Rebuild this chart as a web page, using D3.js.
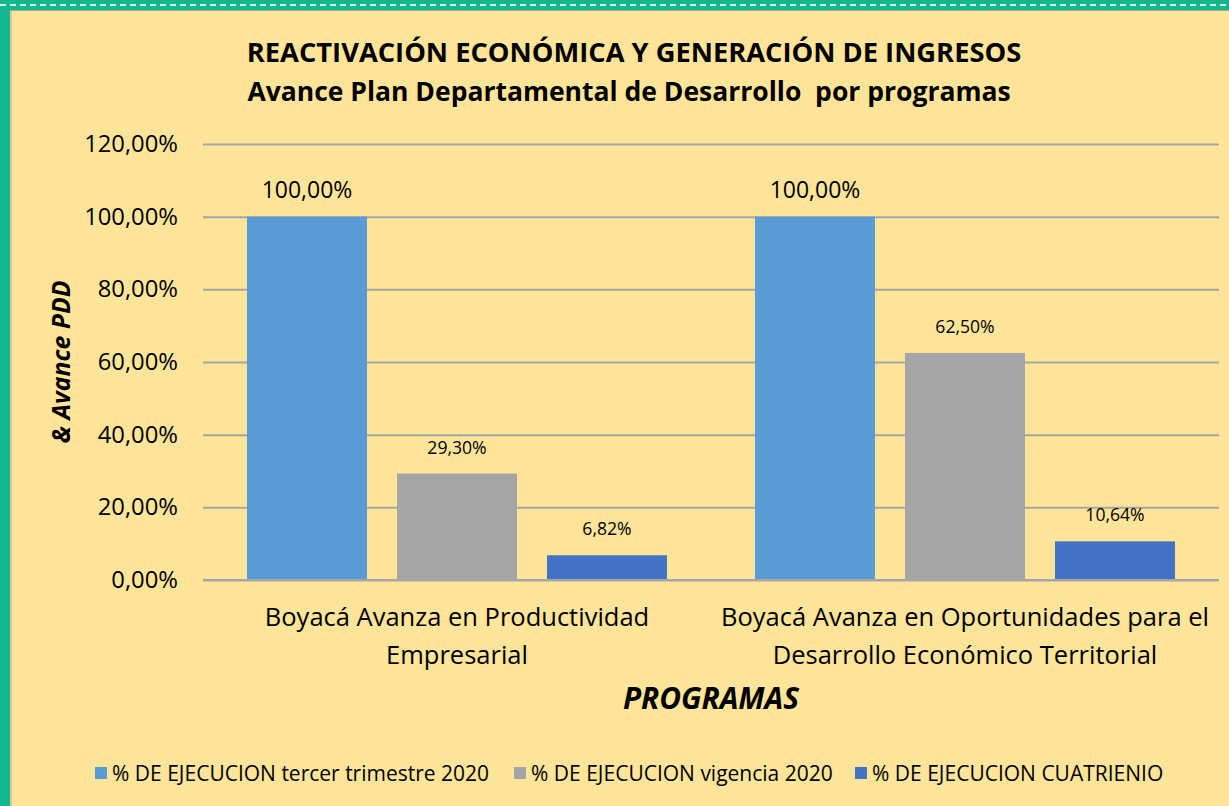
<!DOCTYPE html>
<html><head><meta charset="utf-8">
<script src="https://cdn.jsdelivr.net/npm/d3@7"></script>
<style>body{margin:0;background:#FFE599;} svg{display:block;}</style>
</head><body>
<svg id="c" width="1229" height="806"></svg>
<script>
const categories = [["Boyacá Avanza en Productividad","Empresarial"],["Boyacá Avanza en Oportunidades para el","Desarrollo Económico Territorial"]];
const seriesNames = ["% DE EJECUCION tercer trimestre 2020","% DE EJECUCION vigencia 2020","% DE EJECUCION CUATRIENIO"];
const trimestre = [100.00, 100.00];
const vigencia = [29.30, 62.50];
const cuatrienio = [6.82, 10.64];
const yTicks = [0,20,40,60,80,100,120];
const colors = ["#5B9BD5","#A5A5A5","#4472C4"];

const F = "'Open Sans', sans-serif";
const svg = d3.select("#c");
const W = 1229, H = 806;
svg.append("rect").attr("width",W).attr("height",H).attr("fill","#FFE599");
// teal border
svg.append("rect").attr("x",0).attr("y",0).attr("width",W).attr("height",10).attr("fill","#12B68F");
svg.append("rect").attr("x",0).attr("y",0).attr("width",10).attr("height",H).attr("fill","#12B68F");
svg.append("line").attr("x1",0).attr("x2",W).attr("y1",5).attr("y2",5).attr("stroke","#D8F2E8").attr("stroke-width",2).attr("stroke-dasharray","6,4");
svg.append("line").attr("x1",11).attr("x2",11).attr("y1",10).attr("y2",H).attr("stroke","#B0A890").attr("stroke-width",1);
svg.append("line").attr("x1",10).attr("x2",W).attr("y1",10.5).attr("y2",10.5).attr("stroke","#B0A890").attr("stroke-width",1);

const m = {l:203, r:1219, t:144, b:580};
const x0 = d3.scaleBand().domain(d3.range(categories.length)).range([m.l,m.r]).paddingInner(0).paddingOuter(0);
const x1 = d3.scaleBand().domain(d3.range(3)).range([44, x0.bandwidth()-44]).paddingInner(0.2).paddingOuter(0);
const y = d3.scaleLinear().domain([0,120]).range([m.b,m.t]);

// grid
const yAxis = d3.axisLeft(y).tickValues(yTicks).tickSize(-(m.r-m.l)).tickFormat(d => d3.format(".2f")(d).replace(".",",")+"%");
const ga = svg.append("g").attr("transform",`translate(${m.l},0)`).call(yAxis);
ga.select(".domain").remove();
ga.selectAll(".tick line").attr("stroke","#A6A6A6").attr("stroke-width",2);
ga.selectAll(".tick text").attr("x",-25).attr("font-family",F).attr("font-size",23.8).attr("fill","#000");

const data = [trimestre, vigencia, cuatrienio];
data.forEach((vals,s)=>{
  svg.append("g").selectAll("rect").data(vals).join("rect")
    .attr("x",(d,i)=>x0(i)+x1(s)).attr("width",x1.bandwidth())
    .attr("y",d=>y(d)).attr("height",d=>y(0)-y(d)).attr("fill",colors[s]);
  svg.append("g").selectAll("text").data(vals).join("text")
    .attr("x",(d,i)=>x0(i)+x1(s)+x1.bandwidth()/2).attr("y",d=>y(d)-(s===0?19:20))
    .attr("text-anchor","middle").attr("font-family",F)
    .attr("font-size", s===0?23:17.6).attr("fill","#000")
    .text(d=>d3.format(".2f")(d).replace(".",",")+"%");
});
// baseline
svg.append("line").attr("x1",m.l).attr("x2",m.r).attr("y1",y(0)).attr("y2",y(0)).attr("stroke","#A6A6A6").attr("stroke-width",2);

// category labels
categories.forEach((lines,i)=>{
  lines.forEach((t,j)=>{
    svg.append("text").attr("x",x0(i)+x0.bandwidth()/2).attr("y",626+j*38)
      .attr("text-anchor","middle").attr("font-family",F).attr("font-size",25.5).attr("fill","#000").text(t);
  });
});

// titles
svg.append("text").attr("x",634).attr("y",62).attr("text-anchor","middle").attr("font-family",F).attr("font-weight","bold").attr("font-size",27.3).text("REACTIVACIÓN ECONÓMICA Y GENERACIÓN DE INGRESOS");
svg.append("text").attr("x",629).attr("y",101).attr("text-anchor","middle").attr("font-family",F).attr("font-weight","bold").attr("font-size",26.5).style("white-space","pre").text("Avance Plan Departamental de Desarrollo  por programas");
svg.append("text").attr("transform","translate(70,362) rotate(-90)").attr("text-anchor","middle").attr("font-family",F).attr("font-weight","bold").attr("font-style","italic").attr("font-size",24.8).text("& Avance PDD");
svg.append("text").attr("x",711).attr("y",709).attr("text-anchor","middle").attr("font-family",F).attr("font-weight","bold").attr("font-style","italic").attr("font-size",29.8).text("PROGRAMAS");

// legend
const legX = [95, 514, 855];
seriesNames.forEach((n,i)=>{
  svg.append("rect").attr("x",legX[i]).attr("y",767).attr("width",12).attr("height",12).attr("fill",colors[i]);
  svg.append("text").attr("x",legX[i]+17).attr("y",781).attr("font-family",F).attr("font-size",21).attr("fill","#000").text(n);
});
</script>
</body></html>
